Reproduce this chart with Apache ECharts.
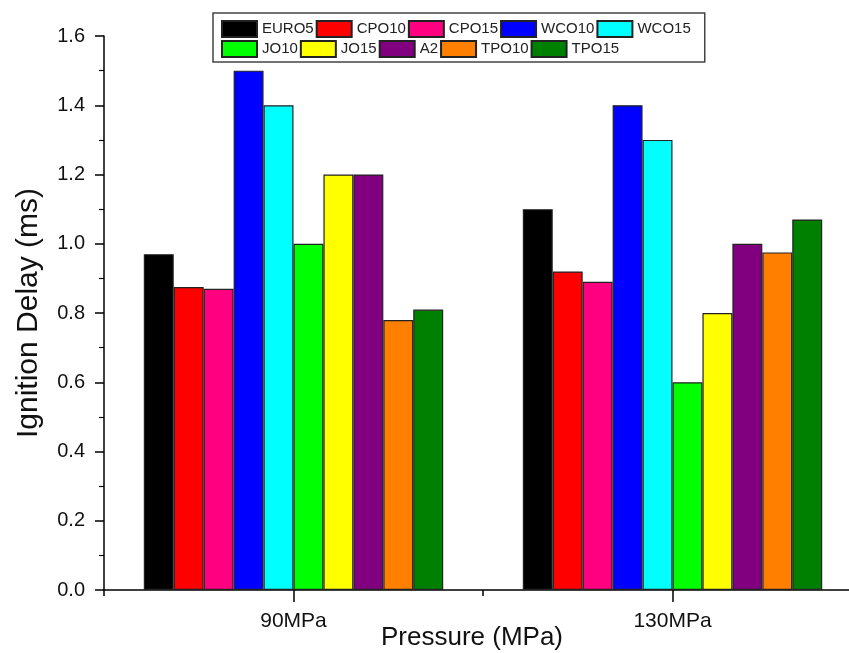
<!DOCTYPE html>
<html>
<head>
<meta charset="utf-8">
<script src="https://cdn.jsdelivr.net/npm/echarts@6/dist/echarts.min.js"></script>
<style>
    html, body { margin: 0; padding: 0; background: #fff; }
    #chart { width: 849px; height: 653px; }
</style>
</head>
<body>
<div id="chart"></div>
<script>
const categories = ['90MPa', '130MPa']
const seriesNames = ['EURO5', 'CPO10', 'CPO15', 'WCO10', 'WCO15', 'JO10', 'JO15', 'A2', 'TPO10', 'TPO15']
const colors = ['#000000', '#ff0000', '#ff0080', '#0000ff', '#00ffff', '#00ff00', '#ffff00', '#800080', '#ff8000', '#008000']
const euro5 = [0.97, 1.10]
const cpo10 = [0.875, 0.92]
const cpo15 = [0.87, 0.89]
const wco10 = [1.50, 1.40]
const wco15 = [1.40, 1.30]
const jo10 = [1.00, 0.60]
const jo15 = [1.20, 0.80]
const a2 = [1.20, 1.00]
const tpo10 = [0.78, 0.975]
const tpo15 = [0.81, 1.07]
const yTicks = [0, 0.2, 0.4, 0.6, 0.8, 1.0, 1.2, 1.4, 1.6]

const values = [euro5, cpo10, cpo15, wco10, wco15, jo10, jo15, a2, tpo10, tpo15]
const font = 'Liberation Sans, Arial, sans-serif'

const chart = echarts.init(document.getElementById('chart'))

const option = {
    animation: false,
    color: colors,
    legend: {
        left: 213,
        top: 13,
        width: 500,
        padding: [7, 14, 4, 8],
        icon: 'rect',
        itemWidth: 35,
        itemHeight: 16,
        itemGap: 2,
        borderColor: '#444',
        borderWidth: 1.5,
        textStyle: { fontFamily: font, fontSize: 15, color: '#222', lineHeight: 18 },
        data: seriesNames
    },
    // plot runs past the right edge of the canvas, like the original
    grid: { left: 104, width: 758, top: 36, height: 554, outerBoundsMode: 'none', containLabel: false },
    xAxis: [
        {
            type: 'category',
            data: categories,
            name: 'Pressure (MPa)',
            nameLocation: 'middle',
            nameGap: 35,
            nameMoveOverlap: false,
            nameTextStyle: { fontFamily: font, fontSize: 26, color: '#111', padding: [0, 22, 0, 0] },
            axisLine: { show: true, lineStyle: { color: '#000', width: 1.5 } },
            axisTick: { show: true, alignWithLabel: true, length: 12, lineStyle: { color: '#000', width: 1.5 } },
            axisLabel: { fontFamily: font, fontSize: 21, color: '#111', margin: 21 }
        },
        {
            type: 'value',
            position: 'bottom',
            min: 0,
            max: 2,
            interval: 1,
            axisLine: { show: false },
            splitLine: { show: false },
            axisLabel: { show: false },
            axisTick: { show: true, length: 6, lineStyle: { color: '#000', width: 1.5 } }
        }
    ],
    yAxis: {
        type: 'value',
        min: 0,
        max: 1.6,
        interval: 0.2,
        name: 'Ignition Delay (ms)',
        nameLocation: 'middle',
        nameGap: 60,
        nameMoveOverlap: false,
        nameTextStyle: { fontFamily: font, fontSize: 30, color: '#111' },
        axisLine: { show: true, lineStyle: { color: '#000', width: 1.5 } },
        axisTick: { show: true, length: 9, lineStyle: { color: '#000', width: 1.5 } },
        minorTick: { show: true, splitNumber: 2, length: 5, lineStyle: { color: '#000', width: 1.2 } },
        splitLine: { show: false },
        axisLabel: {
            fontFamily: font, fontSize: 20, color: '#111', margin: 19,
            formatter: v => v.toFixed(1)
        }
    },
    series: seriesNames.map((name, i) => ({
        name: name,
        type: 'bar',
        xAxisIndex: 0,
        barGap: '0%',
        barCategoryGap: '21%',
        itemStyle: { color: colors[i], borderColor: '#222', borderWidth: 1.2 },
        data: values[i]
    }))
}

chart.setOption(option, true)
</script>
</body>
</html>
